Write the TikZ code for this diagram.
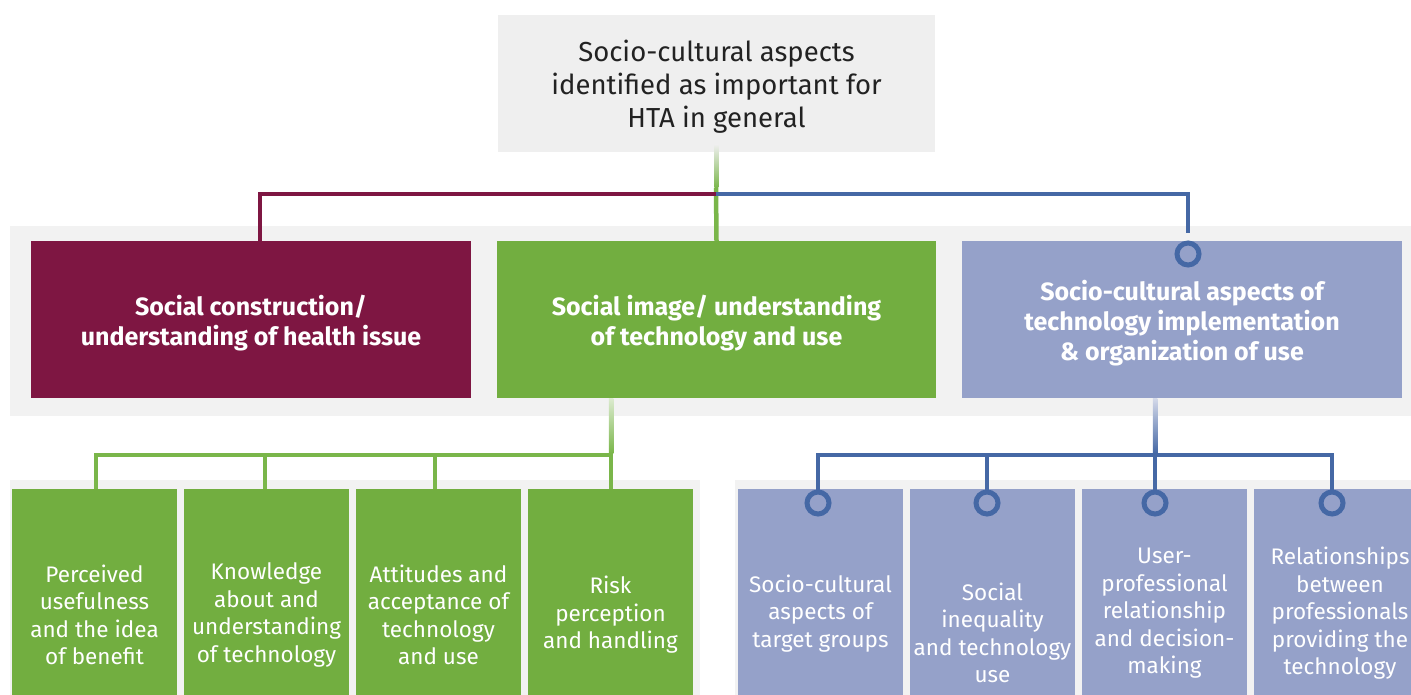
\documentclass[tikz,border=0pt]{standalone}
\usepackage{fontspec}
\setmainfont{Fira Sans}
\usetikzlibrary{calc}
\definecolor{bandgray}{HTML}{F2F2F2}
\definecolor{topgray}{HTML}{EFEFEF}
\definecolor{dark}{HTML}{222222}
\definecolor{wine}{HTML}{7E1642}
\definecolor{leaf}{HTML}{72AE40}
\definecolor{leafline}{HTML}{7AB64A}
\definecolor{lav}{HTML}{95A1C9}
\definecolor{navy}{HTML}{4568A5}
\newcommand{\lift}{\rule{0pt}{27pt}}
\tikzset{
  box/.style={rectangle, inner sep=0pt, align=center, text=white},
  topbox/.style={box, fill=topgray, text=dark, minimum width=437, minimum height=137,
     font=\fontsize{27.5}{33}\selectfont},
  midbox/.style={box, minimum width=440, minimum height=157,
     font=\bfseries\fontsize{25}{30}\selectfont},
  lowbox/.style={box, minimum width=165, font=\fontsize{22.5}{27.5}\selectfont},
  wline/.style={draw=wine, line width=4.5},
  gline/.style={draw=leafline, line width=4.5},
  bline/.style={draw=navy, line width=4.5},
  ring/.style={circle, draw=navy, line width=5, fill=lav, minimum size=22, inner sep=0pt},
}
\begin{document}
\begin{tikzpicture}[x=1pt,y=-1pt]
\useasboundingbox (0,0) rectangle (1411,695);
\clip (0,0) rectangle (1411,695);
% background bands
\fill[bandgray] (10,226) rectangle (1411,416);
\fill[bandgray] (10,480) rectangle (700,700);
\fill[bandgray] (735,480) rectangle (1411,700);

% top
\node[topbox] (top) at (716.5,83.5) {\lift Socio-cultural aspects\\identified as important for\\HTA in general};

% middle boxes
\node[midbox, fill=wine] (red) at (251,319.5) {\lift Social construction/\\understanding of health issue};
\node[midbox, fill=leaf, minimum width=439] (green) at (716.5,319.5) {\lift Social image/ understanding\\of technology and use};
\node[midbox, fill=lav] (blue) at (1182,319.5) {\lift Socio-cultural aspects of\\technology implementation\\\& organization of use};

% lower green boxes
\node[lowbox, fill=leaf, minimum height=252] (g1) at (94.5,615) {Perceived\\usefulness\\and the idea\\of benefit};
\node[lowbox, fill=leaf, minimum height=252] (g2) at (266.5,615) {Knowledge\\about and\\understanding\\of technology};
\node[lowbox, fill=leaf, minimum height=252] (g3) at (438.5,615) {Attitudes and\\acceptance of\\technology\\and use};
\node[lowbox, fill=leaf, minimum height=252] (g4) at (610.5,615) {Risk\\perception\\and handling};

% lower blue boxes
\node[lowbox, fill=lav, minimum height=249] (b1) at (820.5,613.5) {Socio-cultural\\aspects of\\target groups};
\node[lowbox, fill=lav, minimum height=288] (b2) at (992.5,633) {Social\\inequality\\and technology\\use};
\node[lowbox, fill=lav, minimum height=249] (b3) at (1164.5,613.5) {User-\\professional\\relationship\\and decision-\\making};
\node[lowbox, fill=lav, minimum height=249, minimum width=172] (b4) at (1340,613.5) {Relationships\\between\\professionals\\providing the\\technology};

% coordinates for connectors
\coordinate (hub) at (716,194);
\coordinate (gbar) at (611,455);
\coordinate (bbar) at (1155,455);

% top connector: faded green stem
\shade[top color=topgray, bottom color=leafline]
  ($(top.south)+(-2.25,-8)$) rectangle ($(hub)+(2.25,-6)$);
\draw[gline] ($(hub)+(0,-6)$) -- (green.north);
\draw[wline] (hub) -| (red.north -| 260,0);
\draw[bline] (hub) -| ($(blue.north -| 1188,0)+(0,-8)$);
\node[ring] (r0) at (1188,254) {};

% green sub connector
\shade[top color=leaf!25, bottom color=leafline]
  ($(green.south -| gbar)+(-2.25,0)$) rectangle ($(gbar)+(2.25,-2)$);
\draw[gline] (gbar) -| (g1.north -| 96,0);
\draw[gline] (265,455) -- (g2.north -| 265,0);
\draw[gline] (435,455) -- (g3.north -| 435,0);
\draw[gline] ($(gbar)+(0,-2.25)$) -- (g4.north -| gbar);

% blue sub connector
\shade[top color=lav!40, bottom color=navy]
  ($(blue.south -| bbar)+(-2.25,0)$) rectangle ($(bbar)+(2.25,-2)$);
\node[ring] (r1) at (818,503) {};
\node[ring] (r2) at (987,503) {};
\node[ring] (r3) at (1155,503) {};
\node[ring] (r4) at (1332,503) {};
\draw[bline] (r1.north) |- (bbar) -| (r4.north);
\draw[bline] (987,455) -- (r2.north);
\draw[bline] (bbar) -- (r3.north);
\end{tikzpicture}
\end{document}
